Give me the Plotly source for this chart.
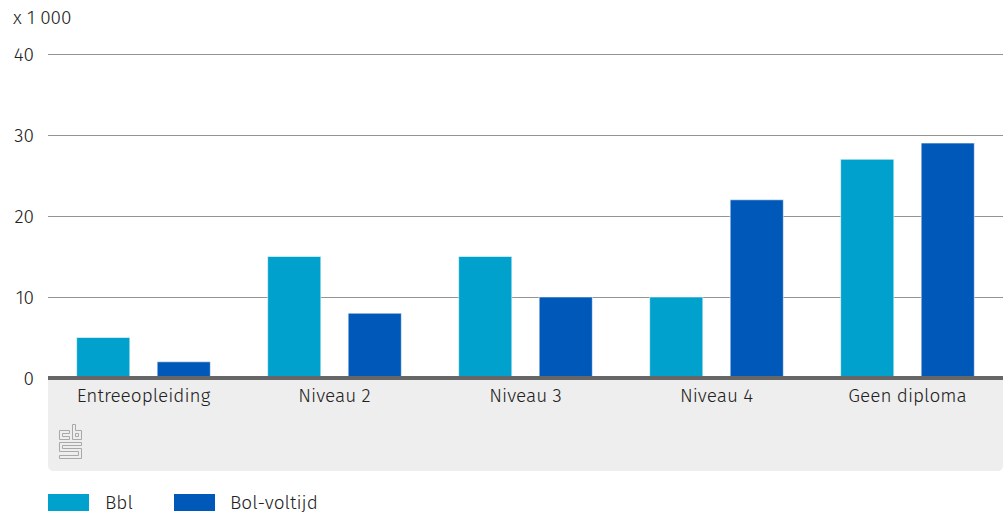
import plotly.graph_objects as go

categories = ["Entreeopleiding", "Niveau 2", "Niveau 3", "Niveau 4", "Geen diploma"]
bbl = [5, 15, 15, 10, 27]
bol_voltijd = [2, 8, 10, 22, 29]
tick_values = [0, 10, 20, 30, 40]
unit_label = "x 1 000"
series_names = ["Bbl", "Bol-voltijd"]

W, H = 1003, 513
L, T, B = 48, 52, 378
Y_MAX = 40 + 2 / 8.1
FONT = "Fira Sans Light, Fira Sans, Noto Sans, sans-serif"
TXT = "#222222"
COL = ["#00a1cd", "#0058b8"]
BAR_EDGE = "rgba(255,255,255,0.55)"


def px(x):
    return (x - L) / (W - L)


def py(y):
    return (B - y) / (B - T)


def path(points):
    return "M" + " L".join(f"{px(x):.5f},{py(y):.5f}" for x, y in points) + " Z"


fig = go.Figure()
fig.add_bar(x=categories, y=bbl, name=series_names[0], marker_color=COL[0],
            marker_line=dict(color=BAR_EDGE, width=1))
fig.add_bar(x=categories, y=bol_voltijd, name=series_names[1], marker_color=COL[1],
            marker_line=dict(color=BAR_EDGE, width=1))

shapes = []
r = 6
band = (f"M{px(L):.5f},{py(378):.5f} L{px(W):.5f},{py(378):.5f} L{px(W):.5f},{py(471-r):.5f} "
        f"Q{px(W):.5f},{py(471):.5f} {px(W-r):.5f},{py(471):.5f} L{px(L+r):.5f},{py(471):.5f} "
        f"Q{px(L):.5f},{py(471):.5f} {px(L):.5f},{py(471-r):.5f} Z")
shapes.append(dict(type="path", xref="paper", yref="paper", path=band, fillcolor="#eeeeee",
                   line_width=0, layer="below"))
shapes.append(dict(type="line", xref="paper", yref="paper", x0=0, x1=1, y0=py(378), y1=py(378),
                   line=dict(color="#666666", width=4), layer="above"))
logo_col = "#a8a8a8"
logo_paths = [
    [(69.5, 430.5), (59.5, 430.5), (59.5, 439.5), (69.5, 439.5), (69.5, 436.5), (62.5, 436.5),
     (62.5, 433.5), (69.5, 433.5)],
    [(72.5, 424.5), (75.5, 424.5), (75.5, 430.5), (81.5, 430.5), (81.5, 439.5), (72.5, 439.5)],
    [(75.5, 433.5), (78.5, 433.5), (78.5, 436.5), (75.5, 436.5)],
    [(59.5, 442.5), (81.5, 442.5), (81.5, 445.5), (62.5, 445.5), (62.5, 448.5), (81.5, 448.5),
     (81.5, 458.5), (59.5, 458.5), (59.5, 455.5), (78.5, 455.5), (78.5, 451.5), (59.5, 451.5)],
]
for p in logo_paths:
    shapes.append(dict(type="path", xref="paper", yref="paper", path=path(p),
                       line=dict(color=logo_col, width=1)))
for x0, x1, c in [(48, 89, COL[0]), (174, 215, COL[1])]:
    shapes.append(dict(type="rect", xref="paper", yref="paper", x0=px(x0), x1=px(x1),
                       y0=py(511), y1=py(494), fillcolor=c, line_width=0))

annotations = [
    dict(x=px(11), y=py(18), text=unit_label, xanchor="left", yanchor="middle"),
    dict(x=px(103), y=py(502), height=20, text=series_names[0], xanchor="left", yanchor="middle"),
    dict(x=px(228), y=py(502), height=20, text=series_names[1], xanchor="left", yanchor="middle"),
]
for a in annotations:
    a.update(xref="paper", yref="paper", showarrow=False, font=dict(family=FONT, size=19, color=TXT))

fig.update_layout(
    width=W, height=H, margin=dict(l=L, r=0, t=T, b=H - B, pad=0),
    paper_bgcolor="white", plot_bgcolor="rgba(0,0,0,0)",
    barmode="group", bargap=0.157, bargroupgap=0.34, showlegend=False,
    font=dict(family=FONT, size=19, color=TXT),
    shapes=shapes, annotations=annotations,
    xaxis=dict(showgrid=False, showline=False, ticks="", tickfont=dict(size=19), ticklabelstandoff=4),
    yaxis=dict(range=[0, Y_MAX], tickvals=tick_values, showgrid=True, gridcolor="#949494", gridwidth=1,
               zeroline=False, showline=False, ticks="", ticklabelstandoff=13, tickfont=dict(size=19)),
)
fig.write_html("out.html", config={"displayModeBar": False}, post_script="document.body.style.margin='0';")
